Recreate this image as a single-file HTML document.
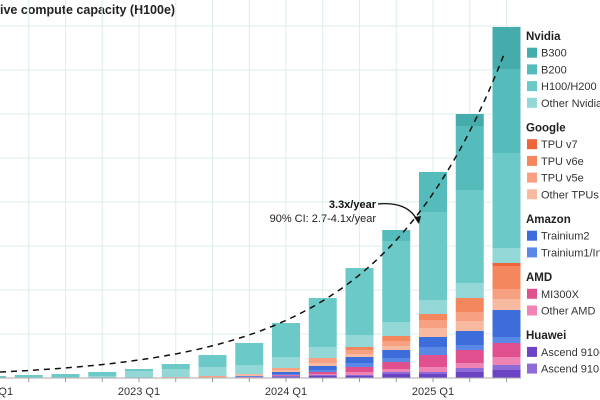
<!DOCTYPE html>
<html><head><meta charset="utf-8"><style>
html,body{margin:0;padding:0;background:#fff;overflow:hidden}
svg{display:block;font-family:"Liberation Sans",sans-serif}
</style></head><body>
<svg id="chart" width="600" height="400">
<text x="0" y="14" font-size="12.5" font-weight="bold" fill="#222">ive compute capacity (H100e)</text>
<g id="grid"></g>
<g id="bars"></g>
<g id="axis"></g>
<path id="trend" fill="none" stroke="#111" stroke-width="1.5" stroke-dasharray="6,5"/>
<text x="376" y="208" font-size="11" font-weight="bold" text-anchor="end" fill="#111">3.3x/year</text>
<text x="376" y="222" font-size="11" text-anchor="end" fill="#222">90% CI: 2.7-4.1x/year</text>
<path d="M378,204 C398,202 412,208 418,222" fill="none" stroke="#111" stroke-width="1.3"/>
<path d="M414,217 L419,224 L421,216 Z" fill="#111"/>
<g id="legend"></g>
</svg>
<script>
const quarters=["2022 Q1","2022 Q2","2022 Q3","2022 Q4","2023 Q1","2023 Q2","2023 Q3","2023 Q4","2024 Q1","2024 Q2","2024 Q3","2024 Q4","2025 Q1","2025 Q2","2025 Q3"];
// values in 100k H100e (gridline = 4.4)
const ascend910c=[0,0,0,0,0,0,0,0,0.1,0.2,0.2,0.4,0.4,0.6,0.8];
const ascend910b=[0,0,0,0,0,0,0,0,0.1,0.1,0.1,0.2,0.2,0.4,0.5];
const otherAmd=[0,0,0,0,0,0,0,0.1,0.05,0.1,0.3,0.3,0.5,0.5,0.8];
const mi300x=[0,0,0,0,0,0,0,0,0.05,0.2,0.5,0.7,1.2,1.3,1.4];
const trainium1=[0,0,0,0,0,0,0,0.1,0.1,0.2,0.4,0.4,0.8,0.5,0.6];
const trainium2=[0,0,0,0,0,0,0,0,0.2,0.4,0.6,0.8,1.0,1.4,2.7];
const otherTpu=[0,0,0,0,0,0.1,0.1,0.2,0.2,0.3,0.3,0.4,0.9,1.0,1.1];
const tpuV5e=[0,0,0,0,0,0,0.1,0,0.2,0.5,0.4,0.5,0.8,0.9,1.0];
const tpuV6e=[0,0,0,0,0,0,0,0,0,0,0.3,0.5,0.6,1.4,2.3];
const tpuV7=[0,0,0,0,0,0,0,0,0,0,0,0,0,0,0.3];
const otherNvidia=[0.05,0.1,0.1,0.2,0.7,0.8,0.9,0.9,1.1,1.1,1.2,1.4,1.4,1.5,1.5];
const h100=[0.15,0.2,0.3,0.4,0.2,0.5,1.2,2.2,3.4,4.9,6.7,8.1,8.8,9.3,9.5];
const b200=[0,0,0,0,0,0,0,0,0,0,0,1.1,4.0,6.4,8.4];
const b300=[0,0,0,0,0,0,0,0,0,0,0,0,0,1.2,4.2];
const yTicks=[0,4.4,8.8,13.2,17.6,22,26.4,30.8,35.2];
const growth=3.2;
const trendStart=0.6;

const series=[
 ["Ascend 910C",ascend910c,"#6a44c4"],["Ascend 910B",ascend910b,"#8d6cd8"],
 ["Other AMD",otherAmd,"#ee83b4"],["MI300X",mi300x,"#e0508f"],
 ["Trainium1/Inferentia",trainium1,"#5a88e6"],["Trainium2",trainium2,"#3c6ddb"],
 ["Other TPUs",otherTpu,"#f8b9a1"],["TPU v5e",tpuV5e,"#f7a082"],["TPU v6e",tpuV6e,"#f5875f"],["TPU v7",tpuV7,"#f0643c"],
 ["Other Nvidia",otherNvidia,"#93d8d6"],["H100/H200",h100,"#6bcac8"],["B200",b200,"#55bcbb"],["B300",b300,"#45abab"]];
const NS="http://www.w3.org/2000/svg";
const base=378, pxPerUnit=10, x0=-8, step=36.75, bw=28;
const xs=i=>x0+i*step, ys=v=>base-v*pxPerUnit;
function mk(tag,attrs,parent){const e=document.createElementNS(NS,tag);for(const k in attrs)e.setAttribute(k,attrs[k]);parent.appendChild(e);return e;}
const grid=document.getElementById('grid');
yTicks.forEach((t,j)=>{if(j===0)return;const l=mk('line',{x1:0,x2:521,y1:ys(t),y2:ys(t),stroke:'#deeeee','stroke-width':1},grid);

});
quarters.forEach((q,i)=>{const l=mk('line',{x1:xs(i),x2:xs(i),y1:0,y2:base,stroke:'#deeeee','stroke-width':1},grid);

});
const bars=document.getElementById('bars');
quarters.forEach((q,i)=>{let acc=0;series.forEach(([name,arr,col])=>{const v=arr[i];if(v<=0)return;
const r=mk('rect',{x:xs(i)-bw/2,y:ys(acc+v),width:bw,height:v*pxPerUnit,fill:col},bars);


acc+=v;});});
const axis=document.getElementById('axis');
const al=mk('line',{x1:0,x2:521,y1:base,y2:base,stroke:'#aaa','stroke-width':1},axis);


quarters.forEach((q,i)=>{const t=mk('line',{x1:xs(i),x2:xs(i),y1:base,y2:base+4,stroke:'#999'},axis);


if(q.endsWith('Q1')){const tx=mk('text',{x:xs(i),y:395,'font-size':11,'text-anchor':'middle',fill:'#333'},axis);tx.textContent=q;

}});
// trend: value = trendStart * growth^(years), plotted via ys
const k=Math.log(growth)/(4*step);let d='';
for(let x=0;x<=504;x+=3){const y=ys(trendStart*Math.exp(k*x));d+=(x?'L':'M')+x+','+y.toFixed(1);}
document.getElementById('trend').setAttribute('d',d);
// legend
const legend=document.getElementById('legend');
const groups=[["Nvidia",[["B300","#45abab"],["B200","#55bcbb"],["H100/H200","#6bcac8"],["Other Nvidia","#93d8d6"]]],
["Google",[["TPU v7","#f0643c"],["TPU v6e","#f5875f"],["TPU v5e","#f7a082"],["Other TPUs","#f8b9a1"]]],
["Amazon",[["Trainium2","#3c6ddb"],["Trainium1/Inferentia","#5a88e6"]]],
["AMD",[["MI300X","#e0508f"],["Other AMD","#ee83b4"]]],
["Huawei",[["Ascend 910C","#6a44c4"],["Ascend 910B","#8d6cd8"]]]];
let ly=40;
groups.forEach(([g,items])=>{const h=mk('text',{x:526,y:ly,'font-size':11.5,'font-weight':'bold',fill:'#222'},legend);h.textContent=g;


ly+=16.7;items.forEach(([n,c])=>{const r=mk('rect',{x:527,y:ly-9,width:10,height:10,fill:c},legend);


const t=mk('text',{x:541,y:ly,'font-size':11,fill:'#333'},legend);t.textContent=n;


ly+=16.7;});ly+=8;});
</script>
</body></html>
